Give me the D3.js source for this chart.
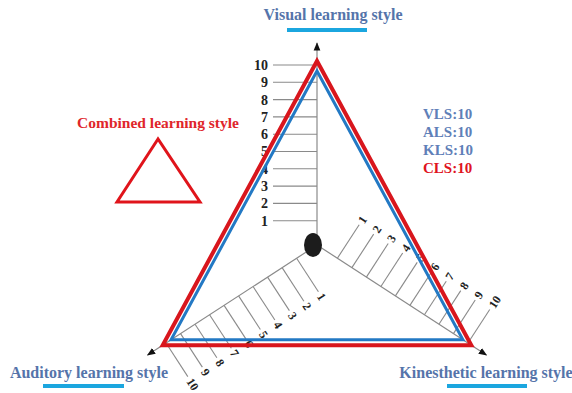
<!DOCTYPE html>
<html>
<head>
<meta charset="utf-8">
<script src="https://cdn.jsdelivr.net/npm/d3@7"></script>
<style>
  body { margin: 0; background: #fff; }
  svg { display: block; }
  text { font-family: 'Liberation Serif', 'DejaVu Serif', serif; font-weight: bold; }
</style>
</head>
<body>
<div id="chart"></div>
<script>
// data
var axisNames = ['Visual learning style', 'Kinesthetic learning style', 'Auditory learning style']
var axisCodes = ['VLS', 'KLS', 'ALS']
var styleScores = [10, 10, 10]      // blue triangle: VLS, KLS, ALS
var combinedScores = [10, 10, 10]   // red triangle: CLS
var tickValues = [1, 2, 3, 4, 5, 6, 7, 8, 9, 10]
var legendLabels = ['VLS:10', 'ALS:10', 'KLS:10', 'CLS:10']

var width = 572, height = 393
var cx = 317, cy = 245
var angles = [-90, 33, 147]   // screen degrees for each axis

var blueText = '#5574aa', red = '#d8161d', lineBlue = '#2379c4', cyan = '#1ba6df'

var svg = d3.select('#chart')
  .append('svg')
    .attr('width', width)
    .attr('height', height)

var r = d3.scaleLinear().domain([0, 10]).range([7, 180])

function pt(angle, rad) {
  var a = angle * Math.PI / 180
  return [cx + rad * Math.cos(a), cy + rad * Math.sin(a)]
}

svg.append('defs').append('marker')
    .attr('id', 'arrow')
    .attr('viewBox', '0 0 10 10')
    .attr('refX', 9).attr('refY', 5)
    .attr('markerWidth', 7).attr('markerHeight', 7)
    .attr('orient', 'auto')
  .append('path')
    .attr('d', 'M0,1L10,5L0,9Z')
    .attr('fill', '#111')

var gAxes = svg.append('g')

// axes with arrows
angles.forEach(function(ang) {
  var end = pt(ang, 202)
  gAxes.append('line')
      .attr('x1', cx).attr('y1', cy)
      .attr('x2', end[0]).attr('y2', end[1])
      .attr('stroke', '#8a8a8a')
      .attr('stroke-width', 1.2)
      .attr('marker-end', 'url(#arrow)')

  var vertical = ang === -90
  var tickLen = vertical ? 44 : 40
  var tAng = ang - 90
  var ta = tAng * Math.PI / 180
  var ticks = gAxes.selectAll(null)
    .data(tickValues)
    .enter().append('g')
      .attr('transform', function(d) { var p = pt(ang, r(d)); return 'translate(' + p[0] + ',' + p[1] + ')' })

  ticks.append('line')
      .attr('x2', tickLen * Math.cos(ta))
      .attr('y2', tickLen * Math.sin(ta))
      .attr('stroke', '#8a8a8a')
      .attr('stroke-width', 1.1)

  ticks.append('text')
      .attr('transform', function() {
        var d = tickLen + (vertical ? 5 : 3)
        return 'translate(' + d * Math.cos(ta) + ',' + d * Math.sin(ta) + ')rotate(' + (vertical ? 0 : tAng) + ')'
      })
      .attr('text-anchor', vertical ? 'end' : 'start')
      .attr('dy', '0.35em')
      .attr('fill', '#222')
      .style('font-size', vertical ? '14px' : '12px')
      .text(function(d) { return d })
})

// center dot
svg.append('ellipse')
    .attr('cx', cx - 4).attr('cy', cy)
    .attr('rx', 9).attr('ry', 12)
    .attr('fill', '#1c1c1c')

// triangles
var tri = d3.line().curve(d3.curveLinearClosed)

svg.append('path')
    .attr('d', tri(combinedScores.map(function(v, i) { return pt(angles[i], r(v) + 4) })))
    .attr('fill', 'none')
    .attr('stroke', red)
    .attr('stroke-width', 4)
    .attr('stroke-linejoin', 'miter')

svg.append('path')
    .attr('d', tri(styleScores.map(function(v, i) { return pt(angles[i], r(v) - 6) })))
    .attr('fill', 'none')
    .attr('stroke', lineBlue)
    .attr('stroke-width', 3)
    .attr('stroke-linejoin', 'miter')

// axis titles with underline
var titlePos = [
  {x: 333, y: 20, ux: 287, uw: 80, uy: 30},
  {x: 486, y: 378, ux: 447, uw: 80, uy: 386},
  {x: 89, y: 378, ux: 43, uw: 81, uy: 386}
]
axisNames.forEach(function(name, i) {
  var p = titlePos[i]
  svg.append('text')
      .attr('x', p.x).attr('y', p.y)
      .attr('text-anchor', 'middle')
      .attr('fill', blueText)
      .style('font-size', '16px')
      .text(name)
  svg.append('rect')
      .attr('x', p.ux).attr('y', p.uy - 2)
      .attr('width', p.uw).attr('height', 4)
      .attr('fill', cyan)
})

// combined learning style key
svg.append('text')
    .attr('x', 158).attr('y', 128)
    .attr('text-anchor', 'middle')
    .attr('fill', '#e0262b')
    .style('font-size', '15.5px')
    .text('Combined learning style')

svg.append('path')
    .attr('d', tri([[158, 139], [117, 202], [200, 202]]))
    .attr('fill', 'none')
    .attr('stroke', '#e0141b')
    .attr('stroke-width', 3)

// score legend
svg.selectAll('.score')
  .data(legendLabels)
  .enter().append('text')
    .attr('class', 'score')
    .attr('x', 423)
    .attr('y', function(d, i) { return 119 + i * 18 })
    .attr('fill', function(d, i) { return i === 3 ? '#e0141e' : '#5f80b8' })
    .style('font-size', '15px')
    .text(function(d) { return d })
</script>
</body>
</html>
